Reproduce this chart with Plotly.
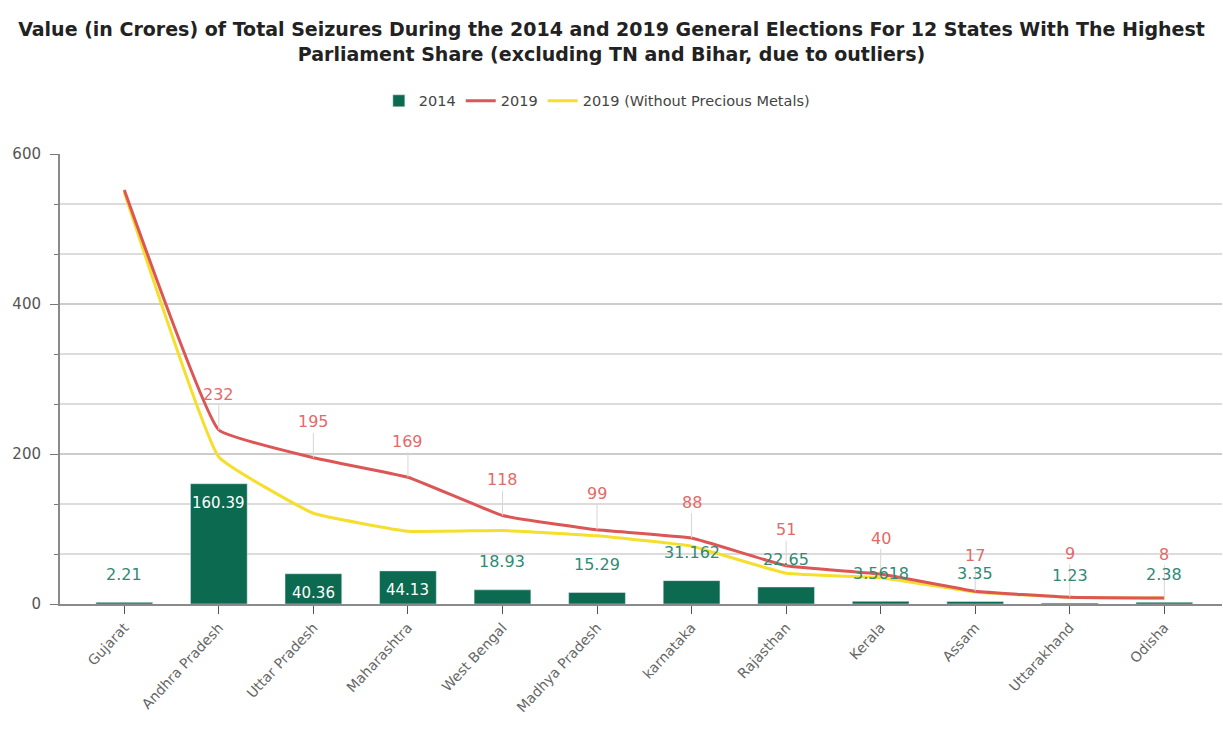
import plotly.graph_objects as go

states = ["Gujarat", "Andhra Pradesh", "Uttar Pradesh", "Maharashtra", "West Bengal",
          "Madhya Pradesh", "karnataka", "Rajasthan", "Kerala", "Assam", "Uttarakhand", "Odisha"]
seizures_2014 = [2.21, 160.39, 40.36, 44.13, 18.93, 15.29, 31.162, 22.65, 3.5618, 3.35, 1.23, 2.38]
seizures_2019 = [552, 232, 195, 169, 118, 99, 88, 51, 40, 17, 9, 8]
seizures_2019_no_metals = [549, 196, 121, 97, 98, 91, 77, 41, 35, 16, 9, 8]

# 2019 labels shown for every state except the first
labels_2019 = ["", "232", "195", "169", "118", "99", "88", "51", "40", "17", "9", "8"]
# 2014 bars whose label sits inside the bar
inside_2014 = {"Andhra Pradesh", "Uttar Pradesh", "Maharashtra"}

FONT = "DejaVu Sans, Verdana, sans-serif"
GREEN = "#0b6a50"
TEAL = "#2f8a76"
RED = "#dc5656"
RED_TEXT = "#e26a68"
YELLOW = "#f6de2c"

fig = go.Figure()
fig.add_trace(go.Bar(x=states, y=seizures_2014, name="2014", marker_color=GREEN,
                     width=0.6, legendrank=1))
fig.add_trace(go.Scatter(x=states, y=seizures_2019_no_metals, name="2019 (Without Precious Metals)",
                         mode="lines", legendrank=3,
                         line=dict(color=YELLOW, width=3, shape="spline", smoothing=0.3)))
fig.add_trace(go.Scatter(x=states, y=seizures_2019, name="2019", mode="lines", legendrank=2,
                         line=dict(color=RED, width=3, shape="spline", smoothing=0.3)))

annotations = []
for s, v, t in zip(states, seizures_2019, labels_2019):
    if not t:
        continue
    # the smallest values get a longer leader so they clear the 2014 labels
    offset = -44 if v < 15 else -36
    annotations.append(dict(x=s, y=v, text=t, showarrow=True, arrowhead=0, arrowwidth=1,
                            arrowcolor="#d6d6d6", ax=0, ay=offset,
                            font=dict(color=RED_TEXT, size=16, family=FONT)))
for s, v in zip(states, seizures_2014):
    txt = f"{v:g}"
    if s in inside_2014:
        annotations.append(dict(x=s, y=v, text=txt, showarrow=False, yshift=-19,
                                font=dict(color="white", size=15, family=FONT)))
    else:
        annotations.append(dict(x=s, y=v, text=txt, showarrow=False, yshift=28,
                                font=dict(color=TEAL, size=16, family=FONT)))

fig.update_layout(
    width=1223, height=729,
    paper_bgcolor="white", plot_bgcolor="white",
    margin=dict(l=60, r=1, t=154, b=125),
    font=dict(family=FONT, color="#555555", size=14),
    title=dict(
        text="Value (in Crores) of Total Seizures During the 2014 and 2019 General Elections For 12 States With The Highest<br>Parliament Share (excluding TN and Bihar, due to outliers)",
        x=0.5, xanchor="center", y=1 - 36 / 729, yanchor="top",
        font=dict(family=FONT, size=19, color="#222222", weight="bold"),
    ),
    legend=dict(orientation="h", x=0.462, xanchor="center", y=1.118, yanchor="middle",
                font=dict(size=14.5, color="#444444"), traceorder="normal",
                itemwidth=30),
    showlegend=True,
    annotations=annotations,
    xaxis=dict(type="category", range=[-0.68, 11.61], tickangle=-47,
               showline=True, linecolor="#8a8a8a", linewidth=2,
               ticks="outside", ticklen=8, tickcolor="#555555",
               tickfont=dict(size=14, color="#666666"), showgrid=False),
    yaxis=dict(range=[0, 600], dtick=200, showline=True, linecolor="#8a8a8a", linewidth=2,
               ticks="outside", ticklen=8, tickcolor="#777777", ticklabelstandoff=6,
               gridcolor="#cccccc", gridwidth=2, zeroline=False,
               tickfont=dict(size=15, color="#555555"),
               minor=dict(dtick=200 / 3, showgrid=True, gridcolor="#dcdcdc", gridwidth=1.5,
                          ticks="outside", ticklen=4, tickcolor="#777777")),
)

fig.write_html("out.html")
